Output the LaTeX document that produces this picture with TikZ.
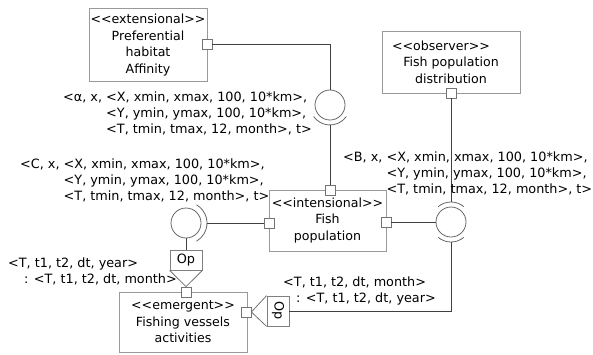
\documentclass[tikz,border=0pt]{standalone}
\usepackage{fontspec}
\usepackage{graphicx}
\newfontfamily\dv{DejaVu Sans}
\begin{document}
\begin{tikzpicture}[x=1pt,y=-1pt,
  font=\dv\fontsize{12.8}{16}\selectfont,
  classbox/.style={draw=black!40, line width=0.8pt, inner sep=0pt, fill=white, align=center,
    font=\dv\fontsize{12.6}{16.5}\selectfont},
  portbox/.style={draw=black!55, fill=white, line width=0.8pt, minimum size=10pt, inner sep=0pt},
  ball/.style={circle, draw=black!60, line width=0.8pt, minimum size=30pt, inner sep=0pt},
  socket/.style={draw=black!60, line width=0.8pt},
  conn/.style={draw=black!75, line width=1pt},
  funnel/.style={draw=black!55, line width=0.8pt},
  opbox/.style={draw=black!50, line width=0.8pt, fill=white, inner sep=0pt},
  lbl/.style={inner sep=0pt, anchor=north west, align=left}
]
\useasboundingbox (0,0) rectangle (593,354);

% class boxes
\node[classbox, minimum width=118pt, minimum height=73pt] (ext) at (148,45)
  {<<extensional>>\\Preferential\\habitat\\Affinity};
\node[classbox, minimum width=138pt, minimum height=62pt] (obs) at (451,62)
  {<<observer>>\hspace*{20pt}\\Fish population\\distribution};
\node[classbox, minimum width=117pt, minimum height=61pt] (int) at (327.5,220.5)
  {<<intensional>>\\Fish\\population};
\node[classbox, minimum width=128pt, minimum height=60pt] (emg) at (183,322)
  {<<emergent>>\\Fishing vessels\\activities};

% ports
\node[portbox] (pext) at (207,44) {};
\node[portbox] (pobs) at (451,93) {};
\node[portbox] (pintt) at (330,190) {};
\node[portbox] (pintl) at (269,223) {};
\node[portbox] (pintr) at (386,222) {};
\node[portbox] (pemt) at (186,292) {};
\node[portbox] (pemr) at (246,312) {};

% balls and sockets
\node[ball] (b1) at (330,105) {};
\node[ball] (b2) at (451,222) {};
\node[ball] (b3) at (186,223) {};
\draw[socket] (330,105) ++(35:20) arc[start angle=35, end angle=145, radius=20];
\draw[socket] (451,222) ++(230:20) arc[start angle=230, end angle=310, radius=20];
\draw[socket] (451,222) ++(50:20) arc[start angle=50, end angle=130, radius=20];
\draw[socket] (186,223) ++(-60:21) arc[start angle=-60, end angle=60, radius=21];
\coordinate (s1) at (330,125);
\coordinate (s2t) at (451,202);
\coordinate (s2b) at (451,242);
\coordinate (s3) at (207,223);

% Op boxes
\node[opbox, minimum width=32pt, minimum height=20pt] (op1) at (186,260) {Op};
\node[opbox, minimum width=22pt, minimum height=30pt] (op2) at (278,311) {\rotatebox{-90}{Op}};
\draw[funnel] (op1.south west) -- (pemt.north) -- (op1.south east);
\draw[funnel] (op2.north west) -- (pemr.east) -- (op2.south west);

% connectors
\draw[conn] (pext.east) -| (b1.north);
\draw[conn] (s1) -- (pintt.north);
\draw[conn] (pobs.south) -- (s2t);
\draw[conn] (pintr.east) -- (b2.west);
\draw[conn] (s2b) |- (op2.east);
\draw[conn] (b3.south) -- (op1.north);
\draw[conn] (s3) -- (pintl.west);

% labels
\node[lbl] (la) at (63,92)
  {<α, x, <X, xmin, xmax, 100, 10*km>,\\
   \hphantom{<α, x, }<Y, ymin, ymax, 100, 10*km>,\\
   \hphantom{<α, x, }<T, tmin, tmax, 12, month>, t>};
\node[lbl] (lc) at (20,159)
  {<C, x, <X, xmin, xmax, 100, 10*km>,\\
   \hphantom{<C, x, }<Y, ymin, ymax, 100, 10*km>,\\
   \hphantom{<C, x, }<T, tmin, tmax, 12, month>, t>};
\node[lbl] (lb) at (343,152)
  {<B, x, <X, xmin, xmax, 100, 10*km>,\\
   \hphantom{<B, x, }<Y, ymin, ymax, 100, 10*km>,\\
   \hphantom{<B, x, }<T, tmin, tmax, 12, month>, t>};
\node[lbl] (lt1) at (8,258)
  {<T, t1, t2, dt, year>\\ \hspace*{16pt}: <T, t1, t2, dt, month>};
\node[lbl] (lt2) at (283,277)
  {<T, t1, t2, dt, month>\\ \hspace*{13pt}: <T, t1, t2, dt, year>};
\end{tikzpicture}
\end{document}
